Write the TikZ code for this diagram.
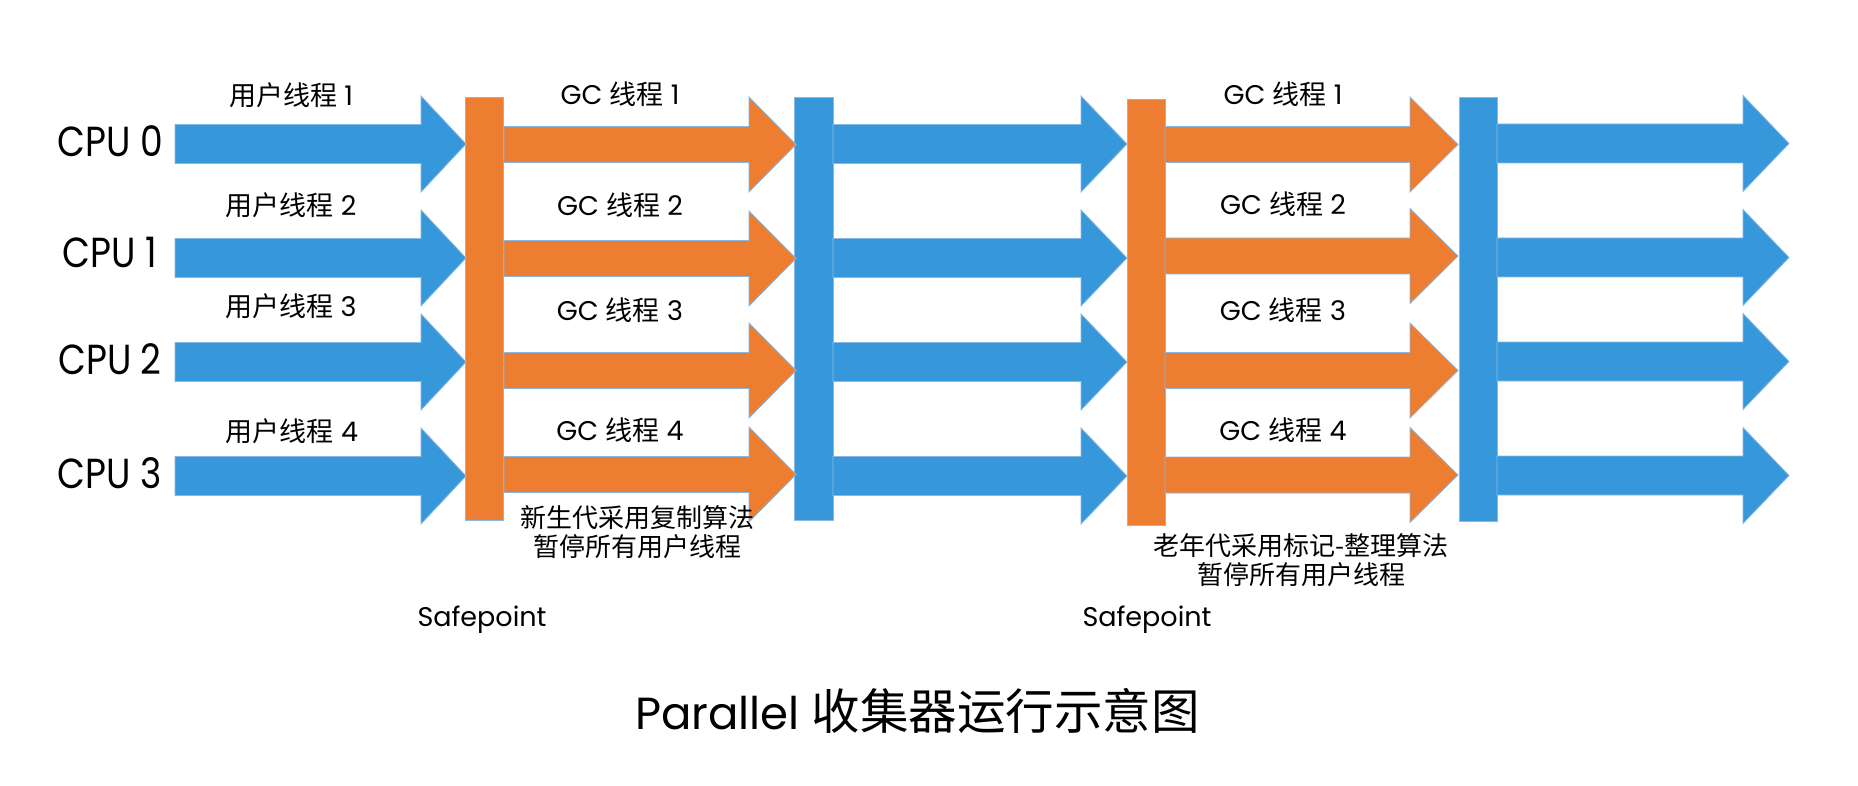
\documentclass[tikz,border=0pt]{standalone}
\usepackage{fontspec}
\setmainfont{Poppins}
\newfontfamily\cjk{Noto Sans CJK SC}
\newfontfamily\cpuf[FakeStretch=0.86]{Poppins}
\definecolor{blueA}{HTML}{3698DA}
\definecolor{orangeA}{HTML}{ED7D31}
\definecolor{edgeA}{HTML}{8AB8E3}
\newcommand{\blockarrow}[7]{%
  \filldraw[fill=#7, draw=edgeA, line width=0.8pt]
    ({#1},{#4-#5}) -- ({#2},{#4-#5}) -- ({#2},{#4-#6}) -- ({#3},{#4})
    -- ({#2},{#4+#6}) -- ({#2},{#4+#5}) -- ({#1},{#4+#5}) -- cycle;}
\tikzset{
  lbl/.style={inner sep=0pt, anchor=center, font=\fontsize{27}{32}\selectfont},
  cpulbl/.style={inner sep=0pt, anchor=center, font=\cpuf\fontsize{42}{48}\selectfont},
  note/.style={inner sep=0pt, anchor=center, align=center, font=\cjk\fontsize{26}{28.5}\selectfont},
  bar/.style={draw=edgeA, line width=0.8pt}
}
\begin{document}
\begin{tikzpicture}[x=1pt,y=-1pt]
\useasboundingbox[fill=white] (0,0) rectangle (1858,786);
% bars
\filldraw[bar, fill=orangeA] (465,97) rectangle (503,520);
\filldraw[bar, fill=blueA] (794,97) rectangle (833,520);
\filldraw[bar, fill=orangeA] (1127,99) rectangle (1165,525);
\filldraw[bar, fill=blueA] (1459,97) rectangle (1497,521);
% blue section 1
\foreach \y in {144,258,362,476} {\blockarrow{175}{421}{466}{\y}{19.5}{48}{blueA}}
% orange section 1
\foreach \y in {144.5,258.5,370.5,474.5} {\blockarrow{504}{749}{796}{\y}{18}{47.5}{orangeA}}
% blue section 2
\foreach \y in {144,258,362,476} {\blockarrow{833}{1081}{1127}{\y}{19.5}{48}{blueA}}
% orange section 2
\foreach \y in {144.5,256,370.5,475} {\blockarrow{1165}{1410}{1458}{\y}{18}{47.5}{orangeA}}
% blue section 3
\foreach \y in {143.5,257.5,361.5,475.5} {\blockarrow{1497}{1743}{1789}{\y}{19.5}{48}{blueA}}
% CPU labels
\node[cpulbl] (cpu0) at (110,141) {CPU 0};
\node[cpulbl] (cpu1) at (110,252) {CPU 1};
\node[cpulbl] (cpu2) at (110,359.5) {CPU 2};
\node[cpulbl] (cpu3) at (110,473) {CPU 3};
% user thread labels
\node[lbl] (u1) at (291,95) {{\cjk 用户线程} 1};
\node[lbl] (u2) at (291,205) {{\cjk 用户线程} 2};
\node[lbl] (u3) at (291,306) {{\cjk 用户线程} 3};
\node[lbl] (u4) at (292,431) {{\cjk 用户线程} 4};
% GC thread labels section 1
\node[lbl] (g1) at (620,94) {GC {\cjk 线程} 1};
\node[lbl] (g2) at (620,205) {GC {\cjk 线程} 2};
\node[lbl] (g3) at (620,310) {GC {\cjk 线程} 3};
\node[lbl] (g4) at (620,430) {GC {\cjk 线程} 4};
% GC thread labels section 2
\node[lbl] (h1) at (1283,94) {GC {\cjk 线程} 1};
\node[lbl] (h2) at (1283,204) {GC {\cjk 线程} 2};
\node[lbl] (h3) at (1283,310) {GC {\cjk 线程} 3};
\node[lbl] (h4) at (1283,430) {GC {\cjk 线程} 4};
% notes
\node[note] (n1) at (637.5,532) {新生代采用复制算法\\暂停所有用户线程};
\node[note] (n2) at (1301,560) {老年代采用标记-整理算法\\暂停所有用户线程};
% safepoints
\node[lbl] (sp1) at (482,620) {Safepoint};
\node[lbl] (sp2) at (1147,620) {Safepoint};
% title
\node[inner sep=0pt, anchor=center] (title) at (917.5,711)
  {\fontsize{45}{52}\selectfont Parallel {\cjk\fontsize{48.5}{56}\selectfont 收集器运行示意图}};
\end{tikzpicture}
\end{document}
